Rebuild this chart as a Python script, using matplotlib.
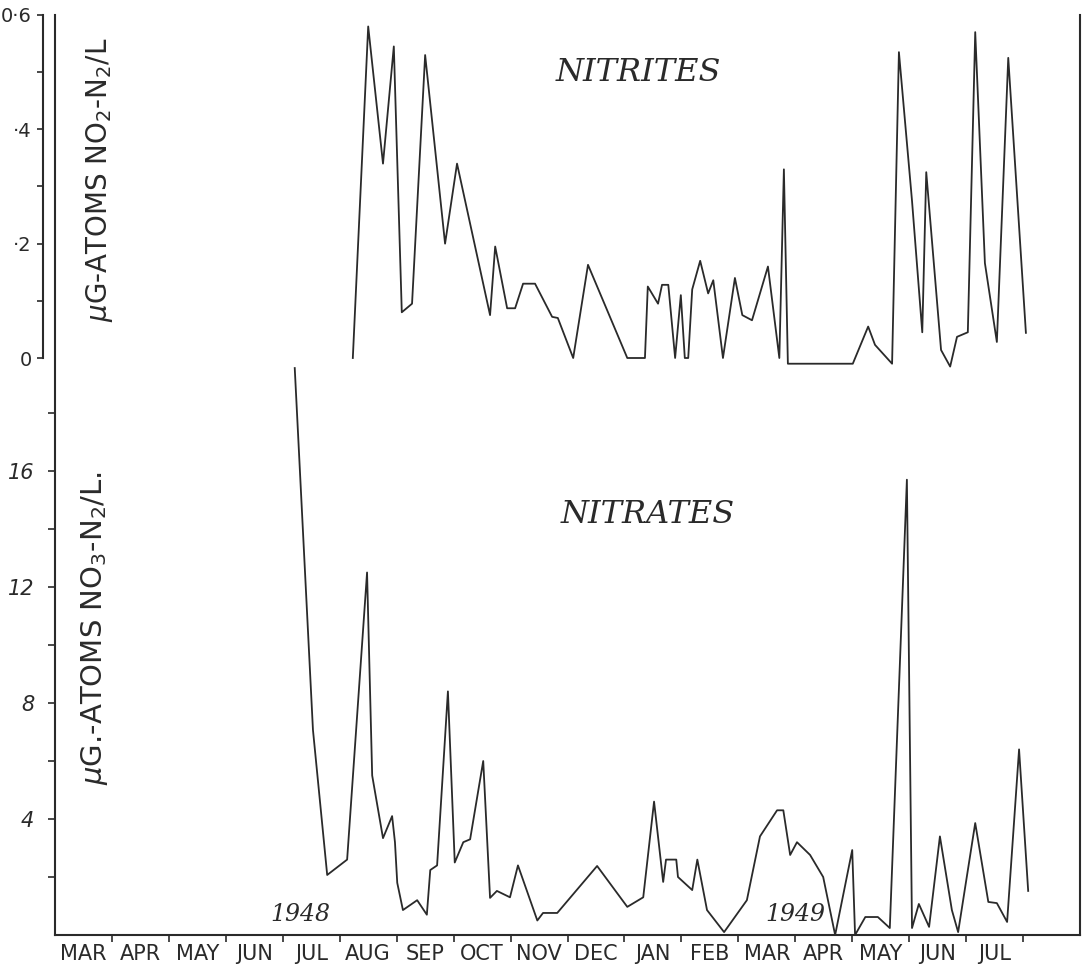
import matplotlib
matplotlib.use("Agg")
import matplotlib.pyplot as plt

# x is in months counted from 1 March 1948 (0 = start of MAR 1948)
month_names = ["MAR", "APR", "MAY", "JUN", "JUL", "AUG", "SEP", "OCT", "NOV",
               "DEC", "JAN", "FEB", "MAR", "APR", "MAY", "JUN", "JUL"]

# nitrites, ug-atoms NO2-N/L
nitrite_month = [5.23, 5.50, 5.76, 5.95, 6.09, 6.27, 6.50, 6.85, 7.06, 7.64,
                 7.73, 7.94, 8.08, 8.22, 8.43, 8.73, 8.83, 9.10, 9.36, 10.05,
                 10.36, 10.41, 10.59, 10.66, 10.77, 10.89, 10.99, 11.06, 11.12,
                 11.19, 11.33, 11.47, 11.56, 11.73, 11.94, 12.07, 12.24, 12.52,
                 12.72, 12.80, 12.87, 14.01, 14.28, 14.40, 14.70, 14.82, 15.05,
                 15.23, 15.30, 15.56, 15.72, 15.84, 16.03, 16.16, 16.33, 16.54,
                 16.74, 17.05]
nitrite_val = [0.0, 0.58, 0.34, 0.545, 0.08, 0.095, 0.53, 0.20, 0.34, 0.075,
               0.195, 0.087, 0.087, 0.13, 0.13, 0.072, 0.07, 0.0, 0.163, 0.0,
               0.0, 0.125, 0.095, 0.128, 0.128, 0.0, 0.11, 0.0, 0.0,
               0.12, 0.17, 0.113, 0.136, 0.0, 0.14, 0.075, 0.066, 0.16,
               0.0, 0.33, -0.01, -0.01, 0.055, 0.023, -0.01, 0.535, 0.275,
               0.045, 0.325, 0.014, -0.015, 0.037, 0.045, 0.57, 0.166, 0.028,
               0.525, 0.044]

# nitrates, ug-atoms NO3-N/L
nitrate_month = [4.21, 4.53, 4.78, 5.13, 5.48, 5.57, 5.76, 5.92, 5.97, 6.01,
                 6.11, 6.36, 6.53, 6.59, 6.71, 6.90, 7.02, 7.17, 7.29, 7.52,
                 7.64, 7.76, 7.99, 8.13, 8.47, 8.57, 8.82, 9.52, 10.05, 10.33,
                 10.52, 10.68, 10.73, 10.91, 10.94, 11.19, 11.28, 11.45, 11.75,
                 12.15, 12.38, 12.68, 12.79, 12.91, 13.03, 13.26, 13.49, 13.70,
                 14.00, 14.05, 14.23, 14.45, 14.66, 14.96, 15.05, 15.17, 15.35,
                 15.54, 15.75, 15.86, 16.16, 16.39, 16.54, 16.72, 16.93, 17.09]
nitrate_val = [19.55, 7.07, 2.07, 2.6, 12.5, 5.5, 3.34, 4.1, 3.2, 1.8,
               0.86, 1.2, 0.7, 2.24, 2.4, 8.4, 2.5, 3.2, 3.3, 6.0,
               1.28, 1.52, 1.3, 2.4, 0.5, 0.76, 0.76, 2.38, 0.97, 1.3,
               4.6, 1.83, 2.6, 2.6, 2.0, 1.55, 2.6, 0.86, 0.1,
               1.2, 3.4, 4.3, 4.3, 2.76, 3.2, 2.76, 2.0, 0.0,
               2.93, 0.0, 0.62, 0.62, 0.24, 15.7, 0.24, 1.07, 0.28,
               3.4, 0.86, 0.1, 3.86, 1.14, 1.1, 0.45, 6.4, 1.52]

W, H = 1089, 969
ink = "#2a2a2a"

fig = plt.figure(figsize=(W / 100, H / 100), dpi=100)
fig.patch.set_facecolor("white")

# main frame: nitrates
ax = fig.add_axes([55 / W, 1 - 935 / H, (1080 - 55) / W, (935 - 15) / H])
ax.set_xlim(0, 18)
ax.set_ylim(0, 920 / 29)
ax.spines["top"].set_visible(False)
for s in ("left", "right", "bottom"):
    ax.spines[s].set_color(ink)
    ax.spines[s].set_linewidth(1.5)
ax.plot(nitrate_month, nitrate_val, color=ink, lw=1.3)

ax.set_yticks(range(2, 20, 2))
ax.set_yticklabels(["", "4", "", "8", "", "12", "", "16", ""],
                   fontsize=15, style="italic", color=ink)
ax.set_xticks(range(1, 18))
ax.set_xticklabels([])
ax.tick_params(axis="both", direction="out", length=5, width=1.2, color=ink)
ax.tick_params(axis="y", pad=10)

for i, name in enumerate(month_names):
    ax.text(i + 0.5, -0.01, name, transform=ax.get_xaxis_transform(),
            ha="center", va="top", fontsize=15, color=ink)

ax.text(4.3, 0.3, "1948", fontsize=17, style="italic", family="DejaVu Serif",
        color=ink, ha="center", va="bottom")
ax.text(13.0, 0.3, "1949", fontsize=17, style="italic", family="DejaVu Serif",
        color=ink, ha="center", va="bottom")
ax.text(10.4, 14.5, "NITRATES", fontsize=23, style="italic",
        family="DejaVu Serif", color=ink, ha="center", va="center")

# upper panel: nitrites
ax2 = fig.add_axes([55 / W, 1 - 358 / H, (1080 - 55) / W, (358 - 15) / H])
ax2.set_xlim(0, 18)
ax2.set_ylim(0, 0.6)
ax2.patch.set_visible(False)
for s in ("top", "right", "bottom"):
    ax2.spines[s].set_visible(False)
ax2.spines["left"].set_position(("outward", 8.6))
ax2.spines["left"].set_color(ink)
ax2.spines["left"].set_linewidth(1.5)
ax2.plot(nitrite_month, nitrite_val, color=ink, lw=1.3, clip_on=False)
ax2.set_xticks([])
ax2.set_yticks([0, 0.1, 0.2, 0.3, 0.4, 0.5, 0.6])
ax2.set_yticklabels(["0", "", "·2", "", "·4", "", "0·6"], fontsize=14,
                    color=ink)
ax2.tick_params(axis="y", direction="out", length=4, width=1.2, color=ink,
                pad=4)
ax2.text(10.25, 0.5, "NITRITES", fontsize=23, style="italic",
         family="DejaVu Serif", color=ink, ha="center", va="center")

fig.text(100 / W, 1 - 180 / H, r"$\mu$G-ATOMS NO$_2$-N$_2$/L", rotation=90,
         ha="center", va="center", fontsize=20, color=ink)
fig.text(95 / W, 1 - 628 / H, r"$\mu$G.-ATOMS NO$_3$-N$_2$/L.", rotation=90,
         ha="center", va="center", fontsize=21, color=ink)

fig.savefig("out.png", dpi=100)
